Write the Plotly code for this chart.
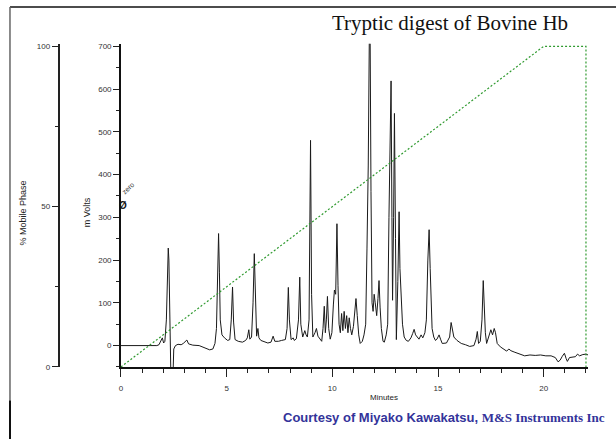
import plotly.graph_objects as go

W, H = 616, 444

# Chromatogram: retention time (min) and detector response (mV)
time_min = [
    0.00, 1.70, 1.80, 1.90, 1.96, 2.02, 2.08, 2.15, 2.20, 2.24, 2.27, 2.30, 2.33,
    2.36, 2.40, 2.43, 2.47, 2.50, 2.58, 2.70, 2.85, 2.95, 3.05, 3.12, 3.20, 3.40,
    3.70, 4.00, 4.20, 4.35, 4.45, 4.52, 4.57, 4.62, 4.66, 4.70, 4.78, 4.90, 5.05,
    5.15, 5.22, 5.28, 5.33, 5.40, 5.55, 5.75, 5.90, 5.98, 6.05, 6.10, 6.18, 6.25,
    6.31, 6.36, 6.42, 6.48, 6.53, 6.62, 6.80, 6.95, 7.10, 7.20, 7.28, 7.45, 7.60,
    7.78, 7.86, 7.92, 7.97, 8.05, 8.15, 8.20, 8.30, 8.40, 8.46, 8.51, 8.60, 8.70,
    8.76, 8.82, 8.90, 8.97, 9.02, 9.08, 9.18, 9.25, 9.32, 9.45, 9.50, 9.56, 9.62,
    9.67, 9.72, 9.77, 9.83, 9.90, 9.98, 10.05, 10.10, 10.16, 10.22, 10.27, 10.32,
    10.38, 10.44, 10.50, 10.56, 10.62, 10.68, 10.74, 10.80, 10.86, 10.92, 11.00,
    11.06, 11.12, 11.18, 11.25, 11.32, 11.42, 11.50, 11.58, 11.64, 11.70, 11.75,
    11.79, 11.83, 11.88, 11.93, 11.98, 12.03, 12.10, 12.16, 12.21, 12.26, 12.32,
    12.40, 12.46, 12.55, 12.62, 12.68, 12.72, 12.78, 12.82, 12.85, 12.90, 12.94,
    12.99, 13.03, 13.10, 13.16, 13.20, 13.26, 13.32, 13.40, 13.50, 13.60, 13.72,
    13.80, 13.87, 13.94, 14.00, 14.10, 14.20, 14.28, 14.38, 14.45, 14.52, 14.58,
    14.63, 14.66, 14.72, 14.80, 14.88, 14.95, 15.05, 15.12, 15.20, 15.40, 15.55,
    15.62, 15.68, 15.75, 15.90, 16.10, 16.30, 16.50, 16.70, 16.80, 16.86, 16.92,
    17.00, 17.08, 17.14, 17.19, 17.24, 17.30, 17.40, 17.50, 17.58, 17.66, 17.72,
    17.80, 17.95, 18.10, 18.25, 18.35, 18.45, 18.60, 18.75, 18.90, 19.10, 19.35,
    19.60, 19.85, 20.10, 20.35, 20.55, 20.68, 20.78, 20.88, 20.98, 21.06, 21.12,
    21.22, 21.35, 21.50, 21.60, 21.70, 21.85, 22.00, 22.10,
]
signal_mv = [
    0, 0, 2, 12, 18, 6, 10, 60, 180, 228, 200, 120, 20,
    -60, -60, -60, -60, -8, 0, 3, 2, 5, 10, 13, 4, 1,
    0, -5, -10, -8, 5, 40, 180, 262, 170, 60, 25, 18, 12,
    14, 60, 137, 55, 14, 10, 8, 12, 18, 37, 15, 20, 100,
    215, 110, 22, 40, 18, 12, 8, 6, 8, 22, 10, 10, 12,
    14, 40, 136, 60, 14, 18, 12, 16, 60, 160, 50, 20, 35,
    25, 20, 60, 480, 120, 20, 30, 40, 22, 12, 10, 40, 92,
    30, 60, 115, 40, 15, 30, 95, 130, 120, 285, 140, 50,
    30, 75, 35, 80, 40, 70, 30, 65, 40, 25, 45,
    80, 110, 70, 25, 5, 10, 25, 50, 226, 420, 720,
    720, 360, 100, 80, 120, 100, 70, 110, 152, 90, 40,
    10, 8, 25, 50, 300, 435, 619, 300, 106, 300, 543,
    250, 14, 150, 313, 180, 90, 50, 20, 12, 10, 18,
    28, 38, 25, 20, 15, 25, 18, 30, 60, 200, 271,
    180, 140, 40, 20, 12, 15, 25, 15, 5, 6, 20,
    54, 40, 20, 12, 5, 2, -2, 0, 15, 33, 5,
    10, 60, 152, 100, 30, 5, 20, 37, 25, 40, 30,
    5, -3, -8, -13, -8, -12, -15, -18, -20, -24, -22,
    -23, -22, -24, -24, -28, -38, -34, -25, -18, -30, -37,
    -28, -27, -26, -20, -24, -21, -20, -22,
]

# Gradient programme (% mobile phase B)
grad_time = [0, 20, 22, 22]
grad_pct = [0, 100, 100, 0]

mv_ticks = [0, 100, 200, 300, 400, 500, 600, 700]
pct_ticks = [0, 50, 100]
min_ticks = [0, 5, 10, 15, 20]

SANS = "Liberation Sans, Arial, sans-serif"
SERIF = "Liberation Serif, Times New Roman, serif"
AXIS_COL = "#222222"

# plot area in pixels; the top is padded a little so that lines lying on
# the 100 % / 700 mV level are not cut in half by the clip region
px_l, px_r, px_t, px_b = 119.3, 588.0, 45.0, 370.8
pad_top = 2.5
span = px_b - px_t
dom_x = [px_l / W, px_r / W]
dom_y = [1 - px_b / H, 1 - (px_t - pad_top) / H]
mv_lo, mv_hi = -50, 700
mv_range = [mv_lo, mv_hi + (mv_hi - mv_lo) * pad_top / span]
pct_range = [0, 100 + 100 * pad_top / span]

fig = go.Figure()
fig.add_trace(go.Scatter(
    x=time_min, y=signal_mv, mode="lines",
    line=dict(color="#1a1a1a", width=1),
    yaxis="y", hoverinfo="skip",
))
fig.add_trace(go.Scatter(
    x=grad_time, y=grad_pct, mode="lines",
    line=dict(color="#2f9a2f", width=1.2, dash="2px,2px"),
    yaxis="y2", hoverinfo="skip",
))

tickfont = dict(family=SANS, size=8, color="#333333")

fig.update_layout(
    width=W, height=H,
    margin=dict(l=0, r=0, t=0, b=0),
    paper_bgcolor="white", plot_bgcolor="white",
    showlegend=False,
    xaxis=dict(
        domain=dom_x, range=[0, 22.1],
        tickmode="array", tickvals=min_ticks, ticktext=[str(v) for v in min_ticks],
        ticks="outside", ticklen=8, tickwidth=1, tickcolor=AXIS_COL,
        minor=dict(dtick=1, tick0=0, ticks="outside", ticklen=4, tickwidth=1, tickcolor=AXIS_COL),
        showline=True, linecolor="#111111", linewidth=2,
        showgrid=False, zeroline=False, tickfont=tickfont,
        ticklabelstandoff=4,
        anchor="y",
    ),
    yaxis=dict(
        domain=dom_y, range=mv_range,
        tickmode="array", tickvals=mv_ticks, ticktext=[str(v) for v in mv_ticks],
        ticks="outside", ticklen=6, tickwidth=1, tickcolor=AXIS_COL,
        minor=dict(dtick=50, tick0=0, ticks="outside", ticklen=3, tickwidth=1, tickcolor=AXIS_COL),
        showline=True, linecolor="#111111", linewidth=1.5,
        showgrid=False, zeroline=False, tickfont=tickfont,
        anchor="x",
    ),
    yaxis2=dict(
        domain=dom_y, range=pct_range, overlaying="y", anchor="free",
        position=57 / W, side="left",
        tickmode="array", tickvals=pct_ticks, ticktext=[str(v) for v in pct_ticks],
        ticks="outside", ticklen=6, tickwidth=1, tickcolor=AXIS_COL,
        minor=dict(tickvals=[25, 75], ticks="outside", ticklen=3, tickwidth=1, tickcolor=AXIS_COL),
        showline=True, linecolor="#222222", linewidth=2,
        showgrid=False, zeroline=False, tickfont=tickfont,
    ),
)

def px(x):
    return x / W

def py(y):
    return 1 - y / H

annotations = [
    dict(text="Tryptic digest of Bovine Hb", x=px(449.5), y=py(21),
         font=dict(family=SERIF, size=21, color="#111111")),
    dict(text="% Mobile Phase", x=px(21), y=py(214), textangle=-90,
         font=dict(family=SANS, size=9, color="#222222")),
    dict(text="m Volts", x=px(85), y=py(214), textangle=-90,
         font=dict(family=SANS, size=9, color="#222222")),
    dict(text="Minutes", x=px(383), y=py(402),
         font=dict(family=SANS, size=8, color="#222222")),
    dict(text="<b>Courtesy of Miyako Kawakatsu, </b>"
              "<b><span style='font-family:Liberation Serif, serif'>M&amp;S Instruments Inc</span></b>",
         x=px(607), y=py(422), xanchor="right",
         font=dict(family=SANS, size=13, color="#33339a")),
    dict(text="zero", x=px(126), y=py(189), textangle=-45,
         font=dict(family=SANS, size=7, color="#333333")),
    dict(text="<b>Ø</b>", x=px(121), y=py(207),
         font=dict(family=SANS, size=10, color="#111111")),
]
for a in annotations:
    a.setdefault("xref", "paper")
    a.setdefault("yref", "paper")
    a.setdefault("showarrow", False)
    a.setdefault("xanchor", "center")
    a.setdefault("yanchor", "middle")
fig.update_layout(annotations=annotations)

# page frame
fig.add_shape(type="line", xref="paper", yref="paper",
              x0=px(8), x1=1, y0=py(5), y1=py(5),
              line=dict(color="#111111", width=1.5))
fig.add_shape(type="line", xref="paper", yref="paper",
              x0=px(8), x1=px(8), y0=py(5), y1=0,
              line=dict(color="#666666", width=1.5))
fig.add_shape(type="line", xref="paper", yref="paper",
              x0=px(8), x1=px(8), y0=py(405), y1=0,
              line=dict(color="#111111", width=2))

fig.write_html("out.html")
